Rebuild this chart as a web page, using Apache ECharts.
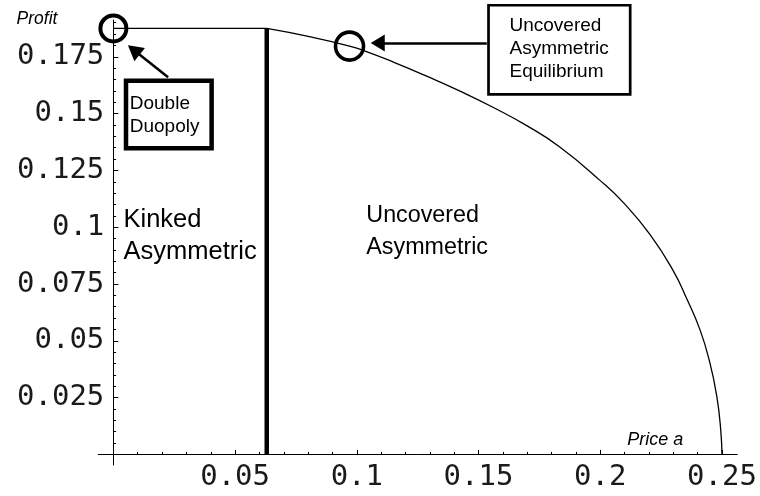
<!DOCTYPE html>
<html>
<head>
<meta charset="utf-8">
<script src="https://cdn.jsdelivr.net/npm/echarts@6/dist/echarts.min.js"></script>
<style>
html,body{margin:0;padding:0;background:#fff;}
#chart{width:760px;height:496px;}
</style>
</head>
<body>
<div id="chart"></div>
<script>
// ---- data ----
const kinkedPrice = [0, 0.063];
const kinkedProfit = [0.1875, 0.1875];
const uncoveredPrice = [0.063, 0.08, 0.097, 0.1034, 0.115, 0.1287, 0.1424, 0.1561, 0.1698, 0.1835, 0.2, 0.2095, 0.2204, 0.23, 0.2355, 0.241, 0.2451, 0.2479, 0.2495, 0.25];
const uncoveredProfit = [0.1875, 0.184, 0.1797, 0.1775, 0.1727, 0.1665, 0.1599, 0.1527, 0.1447, 0.1352, 0.1205, 0.1108, 0.0968, 0.0808, 0.0686, 0.0548, 0.0401, 0.0254, 0.0107, 0];
const boundaryPrice = [0.063, 0.063];
const boundaryProfit = [0, 0.1875];
const doubleDuopolyPoint = [0, 0.1875];
const equilibriumPoint = [0.097, 0.1797];

const xTickValues = [0.05, 0.1, 0.15, 0.2, 0.25];
const xTickLabels = ['0.05', '0.1', '0.15', '0.2', '0.25'];
const yTickValues = [0.025, 0.05, 0.075, 0.1, 0.125, 0.15, 0.175];
const yTickLabels = ['0.025', '0.05', '0.075', '0.1', '0.125', '0.15', '0.175'];
const xMinorTicks = [0.01, 0.02, 0.03, 0.04, 0.06, 0.07, 0.08, 0.09, 0.11, 0.12, 0.13, 0.14, 0.16, 0.17, 0.18, 0.19, 0.21, 0.22, 0.23, 0.24];
const yMinorTicks = [0.005, 0.01, 0.015, 0.02, 0.03, 0.035, 0.04, 0.045, 0.055, 0.06, 0.065, 0.07, 0.08, 0.085, 0.09, 0.095, 0.105, 0.11, 0.115, 0.12, 0.13, 0.135, 0.14, 0.145, 0.155, 0.16, 0.165, 0.17, 0.18, 0.185, 0.19];

// ---- helpers ----
function pairs(xs, ys) { return xs.map((x, i) => [x, ys[i]]); }
function lookup(values, labels) {
  return function (v) {
    const i = values.findIndex(t => Math.abs(t - v) < 1e-9);
    return i >= 0 ? labels[i] : '';
  };
}
const monoFont = '"DejaVu Sans Mono", monospace';
const sansFont = '"Liberation Sans", Arial, sans-serif';
const X_MIN = -0.0062, X_MAX = 0.2563, Y_MIN = -0.00467, Y_MAX = 0.1912;

const chart = echarts.init(document.getElementById('chart'), null, { renderer: 'canvas' });

const option = {
  animation: false,
  backgroundColor: '#fff',
  grid: { left: 98.3, top: 20, width: 639, height: 445, containLabel: false, outerBoundsMode: 'none' },
  xAxis: [
    {
      type: 'value', min: X_MIN, max: X_MAX, position: 'bottom',
      axisLine: { show: true, onZero: true, lineStyle: { color: '#000', width: 1 } },
      axisTick: { show: true, inside: true, length: 4.5, customValues: xTickValues, lineStyle: { color: '#000', width: 1 } },
      axisLabel: { show: true, customValues: xTickValues, formatter: lookup(xTickValues, xTickLabels),
        fontFamily: monoFont, fontSize: 29, color: '#1a1a1a', margin: -2 },
      splitLine: { show: false },
      name: 'Price a', nameLocation: 'end', nameGap: -54, nameMoveOverlap: false,
      nameTextStyle: { fontFamily: sansFont, fontStyle: 'italic', fontSize: 18, color: '#000',
        align: 'right', verticalAlign: 'bottom', padding: [0, 0, 5, 0] }
    },
    {
      type: 'value', min: X_MIN, max: X_MAX, position: 'bottom',
      axisLine: { show: false, onZero: true },
      axisTick: { show: true, inside: true, length: 2.5, customValues: xMinorTicks, lineStyle: { color: '#000', width: 1 } },
      axisLabel: { show: false },
      splitLine: { show: false }
    }
  ],
  yAxis: [
    {
      type: 'value', min: Y_MIN, max: Y_MAX, position: 'left',
      axisLine: { show: true, onZero: true, lineStyle: { color: '#000', width: 1 } },
      axisTick: { show: true, inside: true, length: 5, customValues: yTickValues, lineStyle: { color: '#000', width: 1 } },
      axisLabel: { show: true, customValues: yTickValues, formatter: lookup(yTickValues, yTickLabels),
        fontFamily: monoFont, fontSize: 29, color: '#1a1a1a', margin: -6, padding: [4, 0, 0, 0] },
      splitLine: { show: false },
      name: 'Profit', nameLocation: 'end', nameGap: 1, nameMoveOverlap: false,
      nameTextStyle: { fontFamily: sansFont, fontStyle: 'italic', fontSize: 17.5, color: '#000',
        align: 'right', verticalAlign: 'middle', padding: [0, 56, 0, 0] }
    },
    {
      type: 'value', min: Y_MIN, max: Y_MAX, position: 'left',
      axisLine: { show: false, onZero: true },
      axisTick: { show: true, inside: true, length: 2.7, customValues: yMinorTicks, lineStyle: { color: '#000', width: 1 } },
      axisLabel: { show: false },
      splitLine: { show: false }
    }
  ],
  series: [
    {
      name: 'Kinked profit', type: 'line', xAxisIndex: 0, yAxisIndex: 0,
      data: pairs(kinkedPrice, kinkedProfit), showSymbol: false, symbol: 'none', silent: true, z: 2,
      lineStyle: { color: '#000', width: 1.3 }
    },
    {
      name: 'Uncovered profit', type: 'line', xAxisIndex: 0, yAxisIndex: 0,
      data: pairs(uncoveredPrice, uncoveredProfit), showSymbol: false, symbol: 'none', silent: true, z: 2,
      smooth: 0.5,
      lineStyle: { color: '#000', width: 1.3 }
    },
    {
      name: 'Boundary', type: 'line', xAxisIndex: 0, yAxisIndex: 0,
      data: pairs(boundaryPrice, boundaryProfit), showSymbol: false, symbol: 'none', silent: true, z: 3,
      color: '#000',
      lineStyle: { color: '#000', width: 4.5, cap: 'butt' },
      markLine: {
        silent: true, symbol: ['none', 'triangle'], symbolSize: 16,
        label: { show: false },
        lineStyle: { color: '#000', width: 2.5, type: 'solid' },
        emphasis: { disabled: true },
        data: [
          [{ coord: [0.02247, 0.16602], symbol: 'none' }, { coord: [0.00838, 0.17803], symbol: 'triangle', symbolSize: [17, 15] }],
          [{ coord: [0.1534, 0.1811], symbol: 'none' }, { coord: [0.1086, 0.1811], symbol: 'triangle', symbolSize: [17, 14] }]
        ]
      },
      markArea: {
        silent: true,
        emphasis: { disabled: true },
        data: [
          [
            { name: 'Double\nDuopoly', coord: [0.00518, 0.16444],
              itemStyle: { color: '#fff', borderColor: '#000', borderWidth: 4.5, opacity: 1 },
              label: { show: true, position: 'insideTopLeft', distance: 0, padding: [14, 0, 0, 6],
                fontFamily: sansFont, fontSize: 19, lineHeight: 22.7, color: '#000' } },
            { coord: [0.04035, 0.13473] }
          ]
        ]
      }
    },
    {
      name: 'Key points', type: 'scatter', xAxisIndex: 0, yAxisIndex: 0, silent: true, z: 5, clip: false,
      data: [
        { value: doubleDuopolyPoint, symbolSize: 26, itemStyle: { borderWidth: 4 } },
        { value: equilibriumPoint, symbolSize: 28, itemStyle: { borderWidth: 3.6 } }
      ],
      symbol: 'circle',
      itemStyle: { color: 'rgba(0,0,0,0)', borderColor: '#000', opacity: 1 }
    },
    {
      name: 'Region labels', type: 'scatter', xAxisIndex: 0, yAxisIndex: 0, silent: true, z: 4,
      symbolSize: 1, itemStyle: { color: 'rgba(0,0,0,0)', opacity: 1 },
      label: { show: true, position: [0, 2], align: 'left', verticalAlign: 'top',
        fontFamily: sansFont, color: '#000', lineHeight: 31.6 },
      data: [
        { value: [0.00435, 0.11078], label: { formatter: 'Kinked\nAsymmetric', fontSize: 25.5 } },
        { value: [0.1041, 0.11268], label: { formatter: 'Uncovered\nAsymmetric', fontSize: 23.3 } }
      ]
    }
  ]
};
chart.setOption(option);

// Annotation box that reaches above the plot top: placed through the axes' own scale
const eqBoxCorners = [[0.1541, 0.1977], [0.2123, 0.1585]];
const p0 = chart.convertToPixel({ xAxisIndex: 0, yAxisIndex: 0 }, eqBoxCorners[0]);
const p1 = chart.convertToPixel({ xAxisIndex: 0, yAxisIndex: 0 }, eqBoxCorners[1]);
chart.setOption({
  graphic: [
    {
      type: 'rect', z: 10, silent: true,
      shape: { x: p0[0], y: p0[1], width: p1[0] - p0[0], height: p1[1] - p0[1] },
      style: { fill: '#fff', stroke: '#000', lineWidth: 2.7 }
    },
    {
      type: 'text', z: 11, silent: true, x: p0[0] + 21, y: p0[1] + 8.5,
      style: { text: 'Uncovered\nAsymmetric\nEquilibrium', font: '19px "Liberation Sans", Arial, sans-serif',
        fill: '#000', lineHeight: 23.3, verticalAlign: 'top', align: 'left' }
    }
  ]
});
</script>
</body>
</html>
